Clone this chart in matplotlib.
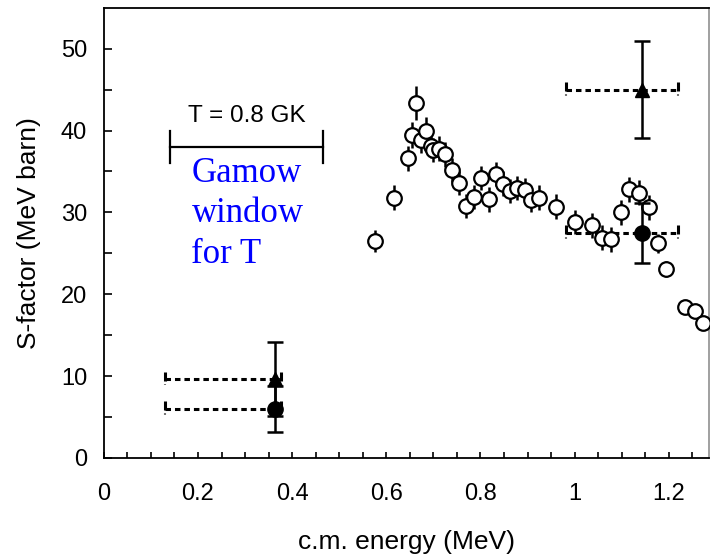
import matplotlib
matplotlib.use('Agg')
import matplotlib.pyplot as plt
import numpy as np

# datos leidos da figura
energia = [0.575, 0.616, 0.647, 0.655, 0.664, 0.673, 0.685, 0.694, 0.699, 0.712,
           0.725, 0.740, 0.754, 0.769, 0.786, 0.802, 0.817, 0.832, 0.848, 0.862,
           0.878, 0.894, 0.908, 0.924, 0.960, 1.000, 1.037, 1.059, 1.078, 1.098,
           1.115, 1.137, 1.157, 1.176, 1.195, 1.234, 1.255, 1.273]
sfator = [26.5, 31.8, 36.6, 39.5, 43.4, 38.8, 40.0, 38.1, 37.6, 37.8,
          37.1, 35.2, 33.6, 30.8, 31.9, 34.2, 31.6, 34.7, 33.5, 32.6,
          33.0, 32.7, 31.5, 31.8, 30.7, 28.8, 28.4, 26.9, 26.7, 30.0,
          32.8, 32.4, 30.6, 26.2, 23.1, 18.4, 18.0, 16.5]
erro = [1.4, 1.5, 1.5, 1.6, 2.1, 1.6, 1.6, 1.5, 1.5, 1.5,
        1.5, 1.5, 1.5, 1.5, 1.5, 1.5, 1.5, 1.5, 1.5, 1.5,
        1.5, 1.5, 1.5, 1.5, 1.5, 1.5, 1.5, 1.5, 1.5, 1.5,
        1.5, 1.5, 1.5, 1.2, 1.0, 0.7, 0.7, 0.7]

# pontos cheios (triangulo e circulo) com faixa de energia
tri_e = [0.363, 1.142]
tri_s = [9.6, 45.0]
tri_err = [4.5, 5.9]
cir_e = [0.363, 1.142]
cir_s = [6.0, 27.5]
cir_err = [2.8, 3.7]
faixa_baixa = (0.130, 0.377)
faixa_alta = (0.982, 1.219)

# janela de Gamow
gamow = (0.140, 0.466)
gamow_s = 38.0

plt.rcParams['font.family'] = ['Liberation Sans', 'DejaVu Sans']

fig = plt.figure(figsize=(7.11, 5.55), dpi=100)
ax = fig.add_axes([0.146, 0.175, 0.851, 0.811])

# faixas tracejadas com terminais "!"
for (e0, e1), ys in [(faixa_baixa, [tri_s[0], cir_s[0]]), (faixa_alta, [tri_s[1], cir_s[1]])]:
    for y in ys:
        ax.plot([e0, e1], [y, y], color='black', lw=2.2,
                linestyle=(0, (1.8, 1.3)), zorder=2)
        for e in (e0, e1):
            ax.plot([e, e], [y + 0.9, y - 0.2], color='black', lw=2.2,
                    solid_capstyle='butt', zorder=2)
            ax.plot([e, e], [y - 0.55, y - 0.75], color='#777777', lw=1.5,
                    solid_capstyle='butt', zorder=2)

# barras de erro dos pontos abertos
ax.errorbar(energia, sfator, yerr=erro, fmt='none', ecolor='black',
            elinewidth=1.8, capsize=0, zorder=3)
ax.plot(energia, sfator, 'o', ms=10.5, mfc='white', mec='black', mew=1.6,
        linestyle='none', zorder=4)

# pontos cheios
ax.errorbar(tri_e, tri_s, yerr=tri_err, fmt='^', ms=10, color='black',
            elinewidth=1.8, capsize=6, capthick=1.8, zorder=5)
ax.errorbar(cir_e, cir_s, yerr=cir_err, fmt='o', ms=11, color='black',
            elinewidth=1.8, capsize=6, capthick=1.8, zorder=5)

# janela de Gamow
ax.plot([gamow[0], gamow[1]], [gamow_s, gamow_s], color='black', lw=1.6)
for e in gamow:
    ax.plot([e, e], [gamow_s - 2.0, gamow_s + 2.0], color='black', lw=1.6)
ax.text((gamow[0] + gamow[1]) / 2, gamow_s + 2.4, 'T = 0.8 GK', ha='center',
        va='bottom', fontsize=17.5)
ax.text(0.186, gamow_s - 1.2, 'Gamow\nwindow\nfor T', ha='left', va='top',
        fontsize=25, color='#0000ff', family='Liberation Serif', linespacing=1.3)

ax.set_xlim(0, 1.285)
ax.set_ylim(0, 55)
ax.set_xticks([0, 0.2, 0.4, 0.6, 0.8, 1.0, 1.2])
ax.set_xticklabels(['0', '0.2', '0.4', '0.6', '0.8', '1', '1.2'])
ax.set_xticks(np.arange(0, 1.29, 0.05), minor=True)
ax.set_yticks([0, 10, 20, 30, 40, 50])
ax.set_yticks(np.arange(0, 55, 5), minor=True)
ax.tick_params(axis='x', which='both', direction='in', length=4, width=1.2,
               labelsize=17, pad=18)
ax.tick_params(axis='y', which='both', direction='in', length=6, width=1.2,
               labelsize=17, pad=12)
for s in ax.spines.values():
    s.set_linewidth(1.3)
ax.spines['right'].set_color('#999999')

ax.set_xlabel('c.m. energy (MeV)', fontsize=19, labelpad=18)
ax.set_ylabel('S-factor (MeV barn)', fontsize=19, labelpad=14)

fig.savefig('out.png', dpi=100)
